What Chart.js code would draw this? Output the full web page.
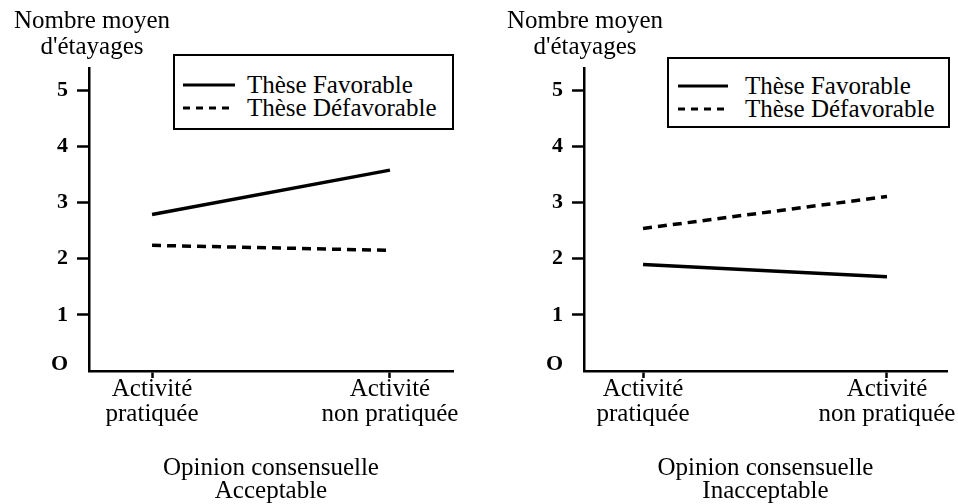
<!DOCTYPE html>
<html>
<head>
<meta charset="utf-8">
<script src="https://cdn.jsdelivr.net/npm/chart.js@4/dist/chart.umd.min.js"></script>
<style>
  body { margin: 0; background: #fff; font-family: "Liberation Serif", "Times New Roman", serif; color: #000; }
  #wrap { position: relative; width: 958px; height: 504px; overflow: hidden; }
  .panel { position: absolute; top: 0; width: 479px; height: 504px; }
  .panel canvas { position: absolute; left: 0; top: 0; }
  .ytitle { position: absolute; top: 7px; width: 220px; text-align: center; font-size: 25px; line-height: 26px; }
  .legend { position: absolute; box-sizing: border-box; border: 2.5px solid #000; background: #fff; font-size: 25px; line-height: 23px; }
  .legend .row { display: flex; align-items: center; white-space: nowrap; }
  .legend svg { display: block; }
</style>
</head>
<body>
<div id="wrap">
  <div class="panel" id="p-left" style="left:0">
    <canvas id="chartLeft" width="479" height="504"></canvas>
    <div class="ytitle" style="left:-18px">Nombre moyen<br>d'étayages</div>
    <div class="legend" id="legendLeft" style="left:173px;top:54px;width:281px;height:76px;padding:17px 0 0 8px"></div>
  </div>
  <div class="panel" id="p-right" style="left:479px">
    <canvas id="chartRight" width="479" height="504"></canvas>
    <div class="ytitle" style="left:-4px">Nombre moyen<br>d'étayages</div>
    <div class="legend" id="legendRight" style="left:188px;top:57px;width:283px;height:71px;padding:15px 0 0 9px"></div>
  </div>
</div>
<script>
  // categories + values
  const categories = [["Activité", "pratiquée"], ["Activité", "non pratiquée"]];
  const seriesNames = ["Thèse Favorable", "Thèse Défavorable"];
  const yTickLabels = ["O", "1", "2", "3", "4", "5"];

  const acceptFavorable = [2.79, 3.58];
  const acceptDefavorable = [2.24, 2.15];
  const inaccFavorable = [1.90, 1.68];
  const inaccDefavorable = [2.54, 3.11];

  Chart.defaults.font.family = "'Liberation Serif', 'Times New Roman', serif";
  Chart.defaults.color = "#000";

  function points(values) {
    return values.map((v, i) => ({ x: i, y: v }));
  }

  function makeChart(canvasId, favo, defavo, opts) {
    const ctx = document.getElementById(canvasId).getContext("2d");
    return new Chart(ctx, {
      type: "line",
      data: {
        datasets: [
          {
            label: seriesNames[0],
            data: points(favo),
            borderColor: "#000",
            borderWidth: 3.5,
            borderDash: [],
            pointRadius: 0,
            tension: 0,
          },
          {
            label: seriesNames[1],
            data: points(defavo),
            borderColor: "#000",
            borderWidth: 3.5,
            borderDash: [9, 6],
            pointRadius: 0,
            tension: 0,
          },
        ],
      },
      options: {
        responsive: false,
        animation: false,
        devicePixelRatio: 1,
        layout: { padding: { left: 0, right: opts.padRight, top: 68, bottom: 0 } },
        plugins: { legend: { display: false }, title: { display: false }, tooltip: { enabled: false } },
        scales: {
          x: {
            type: "linear",
            min: opts.xMin,
            max: opts.xMax,
            afterBuildTicks: (scale) => { scale.ticks = categories.map((c, i) => ({ value: i })); },
            afterFit: (scale) => { scale.height = 133; },
            ticks: {
              autoSkip: false,
              maxRotation: 0,
              padding: -1,
              font: { size: 25, lineHeight: 1 },
              callback: (v) => categories[v],
            },
            grid: { drawOnChartArea: false, drawTicks: true, tickLength: 7, tickWidth: 2.5, tickColor: "#000" },
            border: { display: true, color: "#000", width: 2.5 },
            title: {
              display: true,
              text: ["Opinion consensuelle", opts.subtitle],
              font: { size: 25, lineHeight: 23 / 25 },
              padding: { top: 0, bottom: 1 },
            },
          },
          y: {
            min: 0,
            max: 5.4,
            afterBuildTicks: (scale) => { scale.ticks = yTickLabels.map((t, i) => ({ value: i })); },
            afterFit: (scale) => { scale.width = opts.axisLeft; },
            ticks: {
              padding: 9,
              font: { size: 22, weight: "bold", lineHeight: 0.6 },
              callback: (v) => (v === 0 ? [yTickLabels[0], ""] : yTickLabels[v]),
            },
            grid: {
              drawOnChartArea: false,
              drawTicks: true,
              tickLength: 12,
              tickWidth: 2.5,
              tickColor: (c) => (c.tick && c.tick.value === 0 ? "rgba(0,0,0,0)" : "#000"),
            },
            border: { display: true, color: "#000", width: 2.5 },
          },
        },
      },
    });
  }

  function buildLegend(chart, el, sampleWidth, gap) {
    chart.data.datasets.forEach(function (ds) {
      const row = document.createElement("div");
      row.className = "row";
      const dash = ds.borderDash.length ? ' stroke-dasharray="7 6"' : "";
      row.innerHTML =
        '<svg width="' + sampleWidth + '" height="6"><line x1="0" y1="3" x2="' + sampleWidth +
        '" y2="3" stroke="#000" stroke-width="3"' + dash + '/></svg>' +
        '<span style="margin-left:' + gap + 'px">' + ds.label + "</span>";
      el.appendChild(row);
    });
  }

  const leftChart = makeChart("chartLeft", acceptFavorable, acceptDefavorable, {
    axisLeft: 89, padRight: 26, xMin: -0.265, xMax: 1.265, subtitle: "Acceptable",
  });
  const rightChart = makeChart("chartRight", inaccFavorable, inaccDefavorable, {
    axisLeft: 105, padRight: 11, xMin: -0.242, xMax: 1.246, subtitle: "Inacceptable",
  });

  buildLegend(leftChart, document.getElementById("legendLeft"), 52, 12);
  buildLegend(rightChart, document.getElementById("legendRight"), 50, 17);
</script>
</body>
</html>
